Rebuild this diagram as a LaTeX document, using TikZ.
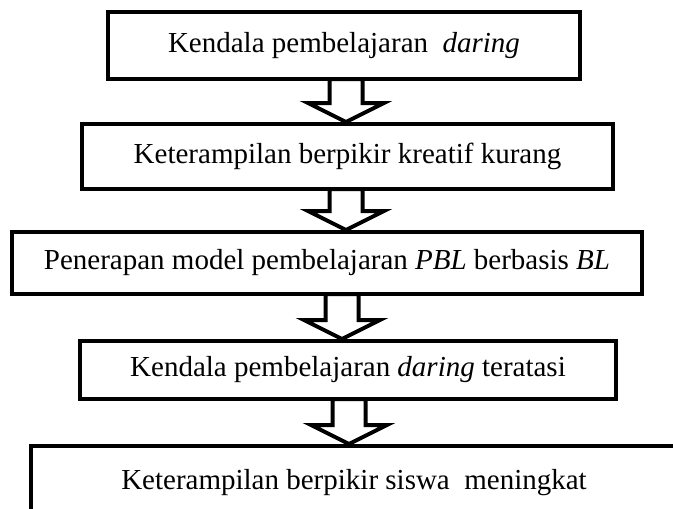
\documentclass[tikz,border=0pt]{standalone}
\usepackage{fontspec}
\setmainfont{Liberation Serif}
\usetikzlibrary{calc}
\tikzset{
  stage/.style={draw,line width=4.5pt,outer sep=0pt,inner sep=0pt,
    font=\fontsize{29}{35}\selectfont},
  downarr/.style={draw,fill=white,line width=4pt,line join=miter}
}
\newcommand{\stagearrow}[3][0pt]{%
  \draw[downarr] let \p1=(#2.south), \p2=(#3.north) in
    (\x1+#1-16.5pt,\y1) -- (\x1+#1-16.5pt,\y2+21pt) -- (\x1+#1-38pt,\y2+21pt)
    -- (\x1+#1,\y2+2pt) -- (\x1+#1+38pt,\y2+21pt) -- (\x1+#1+16.5pt,\y2+21pt)
    -- (\x1+#1+16.5pt,\y1) -- cycle;}
\begin{document}
\begin{tikzpicture}[x=1pt,y=-1pt]
%\draw[gray,very thin] (0,0) grid[step=20] (673,509);
\clip (0,0) rectangle (673,509);
\fill[white] (0,0) rectangle (673,509);
\node[stage,minimum width=472pt,minimum height=67pt] (b1) at (344,45.5) {Kendala pembelajaran\ \ \textit{daring}};
\node[stage,minimum width=531pt,minimum height=65pt] (b2) at (347.5,156.5) {Keterampilan berpikir kreatif kurang};
\node[stage,minimum width=630pt,minimum height=62pt] (b3) at (327,263) {Penerapan model pembelajaran \textit{PBL} berbasis \textit{BL}};
\node[stage,minimum width=536pt,minimum height=58pt] (b4) at (348,370) {Kendala pembelajaran \textit{daring} teratasi};
\node[stage,minimum width=646pt,minimum height=74pt] (b5) at (354,483) {Keterampilan berpikir siswa\ \ meningkat};
\stagearrow[2pt]{b1}{b2}
\stagearrow[-1.5pt]{b2}{b3}
\stagearrow[15pt]{b3}{b4}
\stagearrow[1pt]{b4}{b5}
\end{tikzpicture}
\end{document}
